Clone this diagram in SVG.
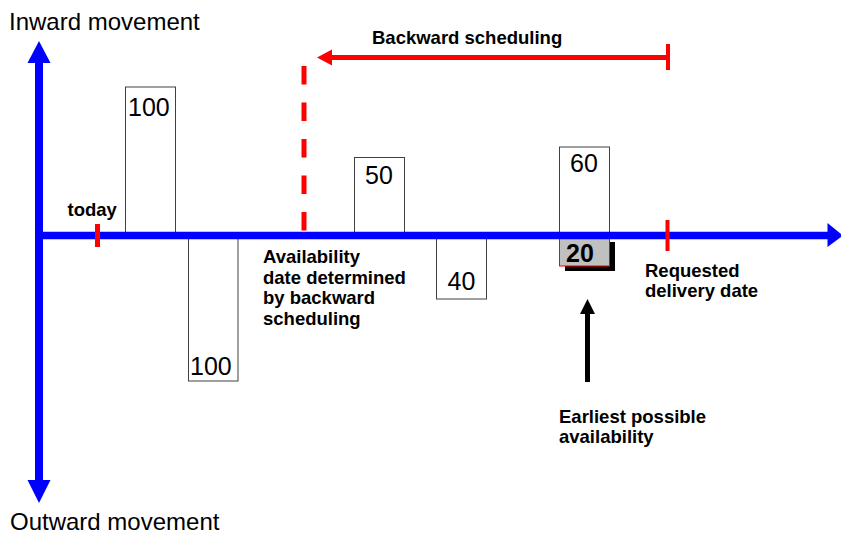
<svg xmlns="http://www.w3.org/2000/svg" width="841" height="534" viewBox="0 0 841 534">
<style>
.lbl{font-family:"Liberation Sans",Arial,sans-serif;font-size:24px;fill:#000}
.b{font-family:"Liberation Sans",Arial,sans-serif;font-size:18.5px;font-weight:bold;fill:#000}
.num{font-family:"Liberation Sans",Arial,sans-serif;font-size:25px;fill:#000}
.box{fill:#fff;stroke:#404040;stroke-width:1}
.red{stroke:#ff0000;fill:none}
</style>
<rect width="841" height="534" fill="#fff"/>
<g id="box-in-100"><rect class="box" x="125.5" y="87" width="50" height="149"/><text class="num" x="128" y="116">100</text></g>
<g id="box-out-100"><rect class="box" x="188.5" y="235" width="49.5" height="146"/><text class="num" x="190" y="374.5">100</text></g>
<g id="box-in-50"><rect class="box" x="354.5" y="157.5" width="50" height="78"/><text class="num" x="365" y="183.5">50</text></g>
<g id="box-out-40"><rect class="box" x="436.5" y="235" width="50" height="64"/><text class="num" x="447.5" y="289.5">40</text></g>
<g id="box-in-60"><rect class="box" x="559.5" y="147" width="50" height="89"/><text class="num" x="570" y="172">60</text></g>
<g id="box-20">
<rect x="565" y="242" width="50" height="29" fill="#000"/>
<rect x="559.5" y="236" width="50" height="30" fill="#c0c0c0" stroke="#ff0000" stroke-width="1"/>
<text class="num" x="566" y="262" font-weight="bold">20</text>
</g>
<g id="connectors">
<line class="red" x1="304" y1="66" x2="304" y2="231" stroke-width="5" stroke-dasharray="18.5 18"/>
<line class="red" x1="330" y1="57.5" x2="668" y2="57.5" stroke-width="5"/>
<polygon points="317,57.5 332,49.5 332,65.5" fill="#ff0000"/>
<line class="red" x1="668" y1="44" x2="668" y2="70" stroke-width="4"/>
<line x1="39" y1="60" x2="39" y2="483" stroke="#0000ff" stroke-width="8"/>
<polygon points="39,41 27.5,63 50.5,63" fill="#0000ff"/>
<polygon points="39,503 27.5,480 50.5,480" fill="#0000ff"/>
<line x1="35" y1="235.5" x2="830" y2="235.5" stroke="#0000ff" stroke-width="7.5"/>
<polygon points="843,235.5 827.5,223 827.5,247" fill="#0000ff"/>
<line class="red" x1="97.5" y1="224" x2="97.5" y2="247" stroke-width="5"/>
<line class="red" x1="667.5" y1="220" x2="667.5" y2="251" stroke-width="4"/>
<line x1="587.5" y1="312" x2="587.5" y2="382" stroke="#000" stroke-width="5"/>
<polygon points="587.5,299 580,314 595,314" fill="#000"/>
</g>
<g id="labels">
<text class="lbl" x="9" y="30">Inward movement</text>
<text class="lbl" x="10" y="530">Outward movement</text>
<text class="b" x="372" y="44">Backward scheduling</text>
<text class="b" x="67.5" y="216">today</text>
<text class="b" x="263"><tspan x="263" y="262.5">Availability</tspan><tspan x="263" y="283.5">date determined</tspan><tspan x="263" y="304">by backward</tspan><tspan x="263" y="325">scheduling</tspan></text>
<text class="b" x="645"><tspan x="645" y="277">Requested</tspan><tspan x="645" y="297">delivery date</tspan></text>
<text class="b" x="559"><tspan x="559" y="423">Earliest possible</tspan><tspan x="559" y="443">availability</tspan></text>
</g>
</svg>
